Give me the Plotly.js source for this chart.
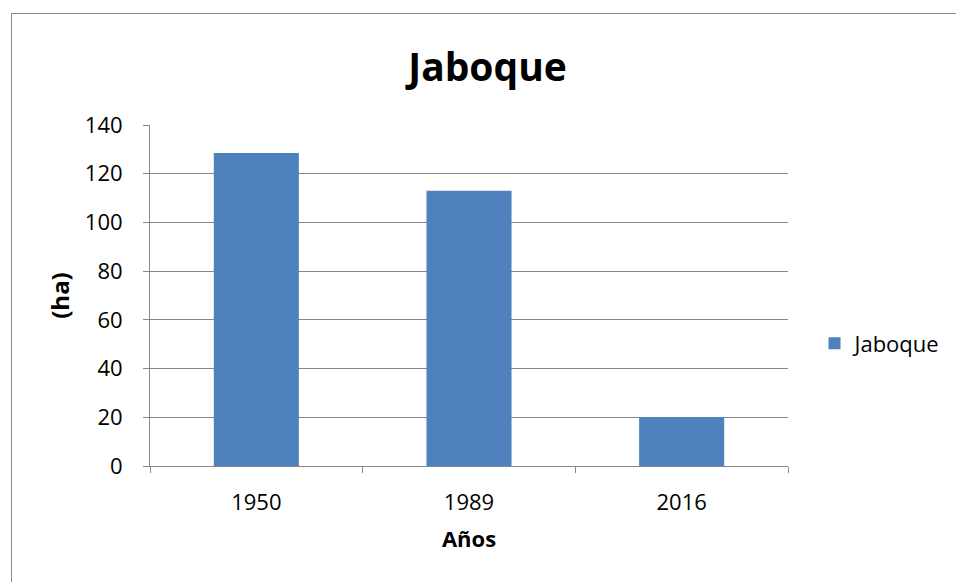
<!DOCTYPE html>
<html>
<head>
<meta charset="utf-8">
<script src="https://cdn.plot.ly/plotly-3.0.1.min.js"></script>
<style>
  html, body { margin: 0; padding: 0; background: #fff; overflow: hidden; }
  #wrap { position: relative; width: 956px; height: 582px; overflow: hidden; }
  #chart { position: absolute; left: 0; top: 0; width: 956px; height: 582px; }
  #frame { position: absolute; left: 11px; top: 13px; width: 1000px; height: 700px;
           border-left: 1.5px solid #8a8a8a; border-top: 1.5px solid #8a8a8a; pointer-events: none; }
</style>
</head>
<body>
<div id="wrap">
  <div id="chart"></div>
  <div id="frame"></div>
</div>
<script>
const years = ["1950", "1989", "2016"];
const hectares = [128.5, 113, 20];
const seriesName = "Jaboque";
const chartTitle = "Jaboque";
const xTitle = "Años";
const yTitle = "(ha)";

const FONT = "Open Sans, sans-serif";
const GRID = "#868686";

const trace = {
  type: "bar",
  x: years,
  y: hectares,
  name: seriesName,
  marker: { color: "#4F81BD", line: { width: 0 } },
  showlegend: true,
  hoverinfo: "x+y"
};

const layout = {
  width: 956,
  height: 582,
  margin: { l: 150, r: 168, t: 125, b: 116 },
  paper_bgcolor: "#ffffff",
  plot_bgcolor: "#ffffff",
  bargap: 0.6,
  font: { family: FONT, color: "#000000", size: 22 },
  title: {
    text: "<b>" + chartTitle + "</b>",
    font: { family: FONT, size: 39, color: "#000000" },
    x: 0.51, xanchor: "center",
    y: 0.885, yanchor: "middle", yref: "container"
  },
  xaxis: {
    type: "category",
    tickson: "boundaries",
    ticks: "outside",
    ticklen: 6,
    tickcolor: GRID,
    tickwidth: 1,
    showline: true,
    linecolor: GRID,
    linewidth: 1,
    showgrid: false,
    ticklabelstandoff: 17,
    tickfont: { family: FONT, size: 22, color: "#000" },
    title: { text: "<b>" + xTitle + "</b>", font: { family: FONT, size: 22, color: "#000" }, standoff: 16 }
  },
  yaxis: {
    range: [0, 140],
    dtick: 20,
    tick0: 0,
    ticks: "outside",
    ticklen: 6,
    tickcolor: GRID,
    tickwidth: 1,
    showline: true,
    linecolor: GRID,
    linewidth: 1,
    showgrid: true,
    gridcolor: GRID,
    gridwidth: 1,
    zeroline: false,
    ticklabelstandoff: 16,
    tickfont: { family: FONT, size: 22, color: "#000" },
    title: { text: "<b>" + yTitle + "</b>", font: { family: FONT, size: 24, color: "#000" }, standoff: 8 }
  },
  legend: {
    x: 0.852, xref: "container", xanchor: "left",
    y: 0.41, yref: "container", yanchor: "middle",
    font: { family: FONT, size: 22, color: "#000" },
    bgcolor: "rgba(0,0,0,0)",
    itemwidth: 30
  }
};

Plotly.newPlot("chart", [trace], layout, { displayModeBar: false, staticPlot: true });
</script>
</body>
</html>
